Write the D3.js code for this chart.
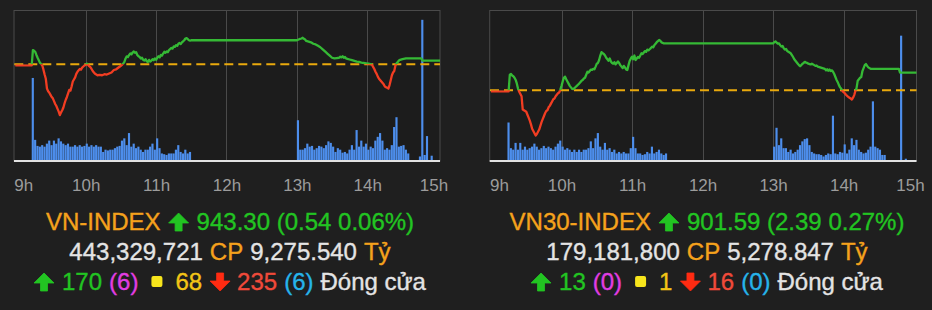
<!DOCTYPE html>
<html>
<head>
<meta charset="utf-8">
<script src="https://cdn.jsdelivr.net/npm/d3@7"></script>
<style>
  body { margin: 0; background: #1f1f1f; }
  svg { display: block; font-family: "Liberation Sans", Arial, Helvetica, sans-serif; }
</style>
</head>
<body>
<svg id="chart" width="932" height="310"></svg>
<script>
// ---- VN-INDEX ----
var vnRef = 942.76;
var vnTime = ["09:00","09:14","09:15","09:16","09:17","09:18","09:19","09:20","09:21","09:22","09:23","09:24","09:25","09:26","09:27","09:28","09:29","09:30","09:31","09:32","09:33","09:34","09:35","09:36","09:37","09:38","09:39","09:40","09:41","09:42","09:43","09:44","09:45","09:46","09:47","09:48","09:49","09:50","09:51","09:52","09:53","09:54","09:55","09:56","09:57","09:58","09:59","10:00","10:01","10:02","10:03","10:04","10:05","10:06","10:07","10:08","10:09","10:10","10:12","10:14","10:16","10:18","10:20","10:22","10:24","10:26","10:28","10:30","10:32","10:33","10:34","10:35","10:36","10:37","10:38","10:39","10:40","10:41","10:42","10:43","10:44","10:45","10:46","10:47","10:48","10:49","10:50","10:51","10:52","10:53","10:54","10:55","10:56","10:57","10:58","10:59","11:00","11:01","11:02","11:03","11:04","11:05","11:06","11:07","11:08","11:09","11:10","11:11","11:12","11:13","11:14","11:15","11:16","11:17","11:18","11:19","11:20","11:21","11:22","11:23","11:24","11:25","11:26","11:27","11:28","11:29","11:30","13:00","13:02","13:04","13:05","13:06","13:07","13:08","13:10","13:12","13:14","13:16","13:18","13:20","13:22","13:24","13:26","13:28","13:30","13:32","13:34","13:36","13:37","13:38","13:39","13:40","13:41","13:42","13:43","13:45","13:47","13:49","13:51","13:53","13:55","13:57","13:59","14:01","14:03","14:04","14:05","14:06","14:07","14:08","14:09","14:10","14:12","14:14","14:15","14:16","14:17","14:18","14:19","14:20","14:21","14:22","14:23","14:24","14:25","14:26","14:27","14:28","14:30","14:33","14:35","14:40","14:45","14:46","14:47","15:02"];
var vnPrice = [942.62,942.62,944.80,944.70,944.55,944.10,943.70,943.35,943.00,942.80,942.60,942.00,941.30,940.70,939.30,938.90,938.70,938.40,938.10,937.90,937.50,937.10,936.80,936.40,936.00,935.50,935.90,936.20,936.60,937.20,937.70,938.10,938.60,939.10,939.00,939.60,940.30,940.60,940.90,941.40,941.70,941.90,942.10,942.00,942.30,942.45,942.60,942.70,942.85,942.70,942.50,942.35,942.10,941.80,941.60,941.40,941.30,941.20,941.25,941.20,941.35,941.30,941.45,941.60,941.95,942.05,942.30,942.55,942.85,943.10,943.60,943.90,943.80,944.10,944.30,944.20,944.45,944.60,944.40,944.50,944.10,943.90,943.80,943.60,943.70,943.40,943.30,943.50,943.20,943.10,943.40,943.15,943.30,943.50,943.35,943.60,943.40,943.70,943.90,943.75,944.10,944.00,944.30,944.55,944.40,944.60,944.50,944.80,944.95,945.10,945.00,945.30,945.25,945.50,945.40,945.70,945.80,945.65,945.90,946.05,946.20,946.45,946.50,946.35,946.20,946.15,946.20,946.20,946.35,946.45,946.55,946.40,946.30,946.10,946.00,945.90,945.70,945.60,945.40,945.20,944.90,944.60,944.30,944.00,943.70,943.60,943.65,943.70,943.85,943.75,943.90,943.70,943.80,943.60,943.55,943.45,943.35,943.25,943.15,943.10,943.00,942.95,942.90,942.85,942.80,942.70,942.40,942.10,941.70,941.40,941.00,940.70,940.30,939.90,939.60,939.50,939.40,939.30,939.80,940.50,941.20,941.60,941.80,942.60,942.90,943.10,943.30,943.40,943.50,943.60,943.62,943.62,943.62,943.62,943.30,943.30];
// volume, 2-minute bins
var vnVolAM = [11.0,2.8,2.0,1.9,2.1,1.9,2.3,2.7,2.1,2.7,2.3,3.0,2.6,2.3,2.1,2.3,1.9,1.9,2.1,1.9,2.1,1.9,2.0,2.3,1.9,2.1,1.9,2.1,1.9,1.9,1.2,1.5,1.4,1.5,1.5,1.7,1.9,2.0,2.7,3.0,2.1,3.7,1.9,2.3,1.7,1.9,1.5,1.2,1.5,1.5,1.9,2.3,1.5,3.0,1.7,1.0,0.9,0.8,1.0,1.0,1.0,1.5,2.1,1.2,1.0,1.5,1.0,1.2];
var vnVolPM = [5.4,1.5,1.5,1.7,2.3,1.9,2.0,1.5,1.7,2.0,1.9,1.7,2.1,2.6,2.4,1.9,1.2,1.7,1.5,1.1,1.2,1.0,1.5,2.1,1.5,4.1,1.9,2.7,1.9,2.3,1.5,1.9,1.7,2.7,3.2,3.7,2.7,1.5,1.7,1.5,2.1,4.5,5.8,1.9,2.0,2.1,1.5,1.0];
var vnVolAtcTime = ["14:44","14:46","14:48","14:50","14:54"];
var vnVolAtc = [0.6,18.7,0.8,3.3,0.7];

// ---- VN30-INDEX ----
var vn30Ref = 899.20;
var vn30Time = ["09:00","09:15","09:16","09:17","09:18","09:19","09:20","09:21","09:22","09:23","09:24","09:25","09:26","09:27","09:28","09:29","09:30","09:31","09:32","09:33","09:34","09:35","09:36","09:37","09:38","09:39","09:40","09:41","09:42","09:43","09:44","09:45","09:46","09:47","09:48","09:49","09:50","09:51","09:52","09:53","09:54","09:55","09:56","09:57","09:58","09:59","10:00","10:01","10:02","10:03","10:04","10:05","10:06","10:07","10:08","10:09","10:10","10:11","10:12","10:13","10:14","10:15","10:16","10:17","10:18","10:19","10:20","10:21","10:22","10:23","10:24","10:25","10:26","10:27","10:28","10:29","10:30","10:31","10:32","10:33","10:34","10:35","10:36","10:37","10:38","10:39","10:40","10:41","10:42","10:43","10:44","10:45","10:46","10:47","10:48","10:49","10:50","10:51","10:52","10:53","10:54","10:55","10:56","10:57","10:58","10:59","11:00","11:01","11:02","11:03","11:04","11:05","11:06","11:07","11:08","11:09","11:10","11:11","11:12","11:13","11:14","11:15","11:16","11:17","11:18","11:19","11:20","11:21","11:22","11:23","11:24","11:25","11:26","11:27","11:30","13:00","13:01","13:02","13:03","13:04","13:05","13:06","13:07","13:08","13:09","13:10","13:11","13:12","13:13","13:14","13:15","13:16","13:17","13:18","13:19","13:20","13:21","13:22","13:23","13:24","13:25","13:26","13:27","13:28","13:29","13:30","13:31","13:32","13:33","13:35","13:36","13:37","13:38","13:40","13:42","13:44","13:45","13:46","13:47","13:48","13:49","13:50","13:51","13:52","13:53","13:54","13:55","13:56","13:57","13:58","13:59","14:00","14:01","14:02","14:03","14:04","14:05","14:06","14:07","14:08","14:09","14:10","14:11","14:12","14:13","14:14","14:15","14:16","14:17","14:18","14:19","14:20","14:21","14:22","14:23","14:25","14:30","14:40","14:47","14:48","15:02"];
var vn30Price = [899.05,899.05,901.30,901.40,901.20,901.10,900.90,900.60,900.10,899.40,899.00,898.70,898.40,896.60,896.50,896.40,896.30,895.90,895.50,895.10,894.60,894.00,893.70,893.40,893.10,893.30,893.60,893.90,894.40,894.90,895.30,895.70,896.10,896.40,896.50,896.90,897.10,897.40,897.70,898.00,898.10,898.40,898.60,898.80,898.90,899.30,899.80,900.40,900.90,901.05,900.70,900.40,900.10,899.80,899.60,899.40,899.35,899.50,899.65,899.80,899.95,900.10,900.30,900.50,900.60,900.80,900.90,901.30,901.70,901.60,901.80,902.00,901.95,902.10,902.05,902.40,902.80,902.90,903.30,903.90,904.35,904.20,904.10,903.90,903.60,903.40,903.20,903.50,903.10,902.90,902.80,903.00,902.70,902.90,903.10,902.90,902.60,902.40,902.20,902.50,902.30,902.00,901.95,902.60,903.20,903.50,903.75,903.40,903.90,903.30,903.50,903.70,903.60,903.90,904.20,904.10,904.30,904.50,904.40,904.70,904.60,904.75,904.90,905.10,905.00,905.30,905.50,905.70,905.85,906.00,905.90,905.70,905.60,905.55,905.55,905.55,905.70,905.80,905.65,905.50,905.55,905.30,905.10,905.20,904.90,904.70,904.80,904.50,904.40,904.30,904.20,903.95,903.70,903.40,903.20,903.00,902.80,902.60,902.45,902.60,902.80,902.90,903.05,902.95,902.90,902.80,902.75,902.70,902.80,902.60,902.50,902.55,902.40,902.30,902.20,902.10,901.90,902.05,901.85,902.00,901.80,901.90,901.70,901.40,901.00,900.60,900.30,899.90,899.60,899.40,899.10,898.95,898.80,898.60,898.45,898.30,898.20,898.10,897.95,898.20,898.55,899.10,899.50,900.50,900.70,900.90,901.00,901.80,902.20,902.60,902.75,902.50,902.30,902.20,902.10,902.10,902.10,902.10,902.10,901.59,901.59];
var vn30VolAM = [5.1,1.7,1.5,2.4,1.5,2.4,1.5,1.9,1.5,1.7,1.9,2.3,1.9,1.5,1.7,2.0,1.7,1.9,1.7,1.5,1.9,2.3,2.7,1.9,1.5,1.7,1.5,1.2,1.5,1.2,1.5,1.2,1.5,1.5,1.7,2.6,1.7,3.0,3.7,1.9,1.5,2.4,1.5,1.7,1.2,1.5,1.0,1.2,1.0,1.2,1.0,1.0,1.7,3.2,1.7,1.0,1.0,0.8,0.9,1.2,1.0,1.9,1.0,1.2,1.5,1.0,0.8,1.0];
var vn30VolPM = [1.9,4.4,2.1,3.0,1.7,1.7,1.2,1.5,1.0,1.2,1.5,2.1,2.6,2.9,3.0,2.1,1.2,1.0,0.9,0.9,0.8,0.6,0.8,1.0,0.9,6.0,1.0,0.9,1.2,1.1,2.2,1.0,1.5,3.0,2.1,2.8,1.5,1.2,1.0,1.1,1.5,1.9,7.9,1.9,1.7,1.5,0.8,0.8];
var vn30VolAtcTime = ["14:48","14:52"];
var vn30VolAtc = [16.6,0.3];

var hourTicks = ["09:00","10:00","11:00","12:00","13:00","14:00","15:00"];

var parse = d3.timeParse("%H:%M");
var T0 = parse("09:00"), T1 = parse("15:02");
var svg = d3.select("#chart");

function panel(o) {
  var x = d3.scaleTime().domain([T0, T1]).range([o.x0, o.x1]);
  var y = d3.scaleLinear().domain(o.yDomain).range([161, 10]);
  var yv = d3.scaleLinear().domain([0, 20]).range([161, 10]);
  var g = svg.append("g");

  g.append("rect")
    .attr("x", o.x0 - 1.3).attr("y", 10.5)
    .attr("width", o.x1 - o.x0 + 1.3).attr("height", 150.5)
    .attr("fill", "#1c1c1c").attr("stroke", "#4a4a4a");

  var ticks = hourTicks.map(parse);
  g.selectAll("line.grid").data(ticks.slice(1, -1)).join("line")
    .attr("class", "grid")
    .attr("x1", d => Math.round(x(d)) + 0.5).attr("x2", d => Math.round(x(d)) + 0.5)
    .attr("y1", 10).attr("y2", 161)
    .attr("stroke", "#4a4a4a");

  // volume bars
  var bars = [];
  o.volAM.forEach((v, i) => bars.push({ t: d3.timeMinute.offset(parse(o.amStart), i * 2), v: v }));
  o.volPM.forEach((v, i) => bars.push({ t: d3.timeMinute.offset(parse("13:00"), i * 2), v: v }));
  o.atcTime.forEach((t, i) => bars.push({ t: parse(t), v: o.atc[i] }));
  g.selectAll("rect.vol").data(bars).join("rect")
    .attr("class", "vol")
    .attr("x", d => x(d.t))
    .attr("width", d => x(d3.timeMinute.offset(d.t, 2)) - x(d.t) - 0.2)
    .attr("y", d => yv(d.v))
    .attr("height", d => yv(0) - yv(d.v))
    .attr("fill", "#4d8eec");

  g.append("line")
    .attr("x1", o.x0 - 1.3).attr("x2", o.x1)
    .attr("y1", 161).attr("y2", 161)
    .attr("stroke", "#e2e2e2").attr("stroke-width", 2);

  // reference (previous close)
  g.append("line")
    .attr("x1", o.x0 - 1).attr("x2", o.x1)
    .attr("y1", y(o.ref)).attr("y2", y(o.ref))
    .attr("stroke", "#e9a90c").attr("stroke-width", 2)
    .attr("stroke-dasharray", "9,5");

  var pts = o.time.map((t, i) => ({ t: parse(t), v: o.price[i] }));
  var line = d3.line().x(d => x(d.t)).y(d => y(d.v));
  var defs = g.append("defs");
  defs.append("clipPath").attr("id", o.id + "-up")
    .append("rect").attr("x", o.x0 - 2).attr("y", 0).attr("width", o.x1 - o.x0 + 4).attr("height", y(o.ref));
  defs.append("clipPath").attr("id", o.id + "-dn")
    .append("rect").attr("x", o.x0 - 2).attr("y", y(o.ref)).attr("width", o.x1 - o.x0 + 4).attr("height", 170 - y(o.ref));
  g.append("path").datum(pts).attr("d", line)
    .attr("fill", "none").attr("stroke", "#35b935").attr("stroke-width", 2.3)
    .attr("stroke-linejoin", "round")
    .attr("clip-path", "url(#" + o.id + "-up)");
  g.append("path").datum(pts).attr("d", line)
    .attr("fill", "none").attr("stroke", "#f23d22").attr("stroke-width", 2.3)
    .attr("stroke-linejoin", "round")
    .attr("clip-path", "url(#" + o.id + "-dn)");

  var ax = g.append("g").attr("transform", "translate(0,161)")
    .call(d3.axisBottom(x).tickValues(ticks).tickFormat(d3.timeFormat("%-Hh")).tickSize(0));
  ax.select(".domain").remove();
  ax.selectAll("text")
    .attr("y", 30).attr("dy", 0)
    .attr("fill", "#9c9c9c")
    .style("font-size", "17px")
    .style("font-family", "Liberation Sans, Arial, sans-serif");
  ax.selectAll("text").filter((d, i) => i === 0).attr("text-anchor", "start").attr("x", -1.5);
  ax.selectAll("text").filter((d, i) => i === ticks.length - 1).attr("text-anchor", "end").attr("x", 10);
}

panel({ id: "vn", x0: 15.3, x1: 440, ref: vnRef, yDomain: [928.95, 950.52],
  time: vnTime, price: vnPrice, amStart: "09:14", volAM: vnVolAM, volPM: vnVolPM,
  atcTime: vnVolAtcTime, atc: vnVolAtc });
panel({ id: "vn30", x0: 491, x1: 916.5, ref: vn30Ref, yDomain: [889.65, 910.05],
  time: vn30Time, price: vn30Price, amStart: "09:14", volAM: vn30VolAM, volPM: vn30VolPM,
  atcTime: vn30VolAtcTime, atc: vn30VolAtc });

// ---- info text under the charts ----
var C = { orange: "#f5a21c", green: "#22c422", white: "#e4e4e4", magenta: "#e23de2",
  yellow: "#f3c416", sq: "#f7e51c", red: "#f04a3a", redArrow: "#ff2b12", cyan: "#26b4ea" };

function arrowPath(up) {
  return up ? "M10,0L20,10L13.5,10L13.5,18L6.5,18L6.5,10L0,10Z"
            : "M10,18L20,8L13.5,8L13.5,0L6.5,0L6.5,8L0,8Z";
}

function infoLine(cx, base, segs) {
  var g = svg.append("g");
  var items = segs.map(s => {
    if (s.icon) return { s: s, w: s.icon === "sq" ? 11 : 20 };
    var t = g.append("text").attr("y", base).attr("fill", s.c)
      .attr("stroke", s.c).attr("stroke-width", 0.35)
      .style("font-size", "24px").text(s.t);
    return { s: s, el: t, w: t.node().getComputedTextLength() };
  });
  var total = d3.sum(items, (it, i) => it.w + (i > 0 ? (it.s.gap == null ? 7 : it.s.gap) : 0));
  var xx = cx - total / 2;
  items.forEach((it, i) => {
    if (i > 0) xx += it.s.gap == null ? 7 : it.s.gap;
    if (it.el) it.el.attr("x", xx);
    else if (it.s.icon === "sq") {
      g.append("rect").attr("x", xx).attr("y", base - 14).attr("width", 11).attr("height", 11)
        .attr("rx", 2).attr("fill", it.s.c);
    } else {
      g.append("path").attr("d", arrowPath(it.s.icon === "up"))
        .attr("transform", "translate(" + xx + "," + (base - 17) + ")")
        .attr("fill", it.s.c).attr("stroke", it.s.c).attr("stroke-width", 0.8)
        .attr("stroke-linejoin", "round");
    }
    xx += it.w;
  });
}

var vnHead = ["VN-INDEX", "943.30 (0.54 0.06%)"];
var vnVol = ["443,329,721", "9,275.540"];
var vnCount = ["170", "(6)", "68", "235", "(6)"];
var vn30Head = ["VN30-INDEX", "901.59 (2.39 0.27%)"];
var vn30VolTxt = ["179,181,800", "5,278.847"];
var vn30Count = ["13", "(0)", "1", "16", "(0)"];

function block(cx, head, vol, cnt) {
  infoLine(cx, 230, [
    { t: head[0], c: C.orange },
    { icon: "up", c: C.green, gap: 8 },
    { t: head[1], c: C.green, gap: 8 }
  ]);
  infoLine(cx, 260, [
    { t: vol[0], c: C.white },
    { t: "CP", c: C.orange },
    { t: vol[1], c: C.white },
    { t: "Tỷ", c: C.orange }
  ]);
  infoLine(cx, 290, [
    { icon: "up", c: C.green },
    { t: cnt[0], c: C.green, gap: 8 },
    { t: cnt[1], c: C.magenta },
    { icon: "sq", c: C.sq, gap: 13 },
    { t: cnt[2], c: C.yellow, gap: 13 },
    { icon: "down", c: C.redArrow, gap: 8 },
    { t: cnt[3], c: C.red, gap: 7 },
    { t: cnt[4], c: C.cyan },
    { t: "Đóng cửa", c: C.white }
  ]);
}

block(230, vnHead, vnVol, vnCount);
block(707, vn30Head, vn30VolTxt, vn30Count);
</script>
</body>
</html>
